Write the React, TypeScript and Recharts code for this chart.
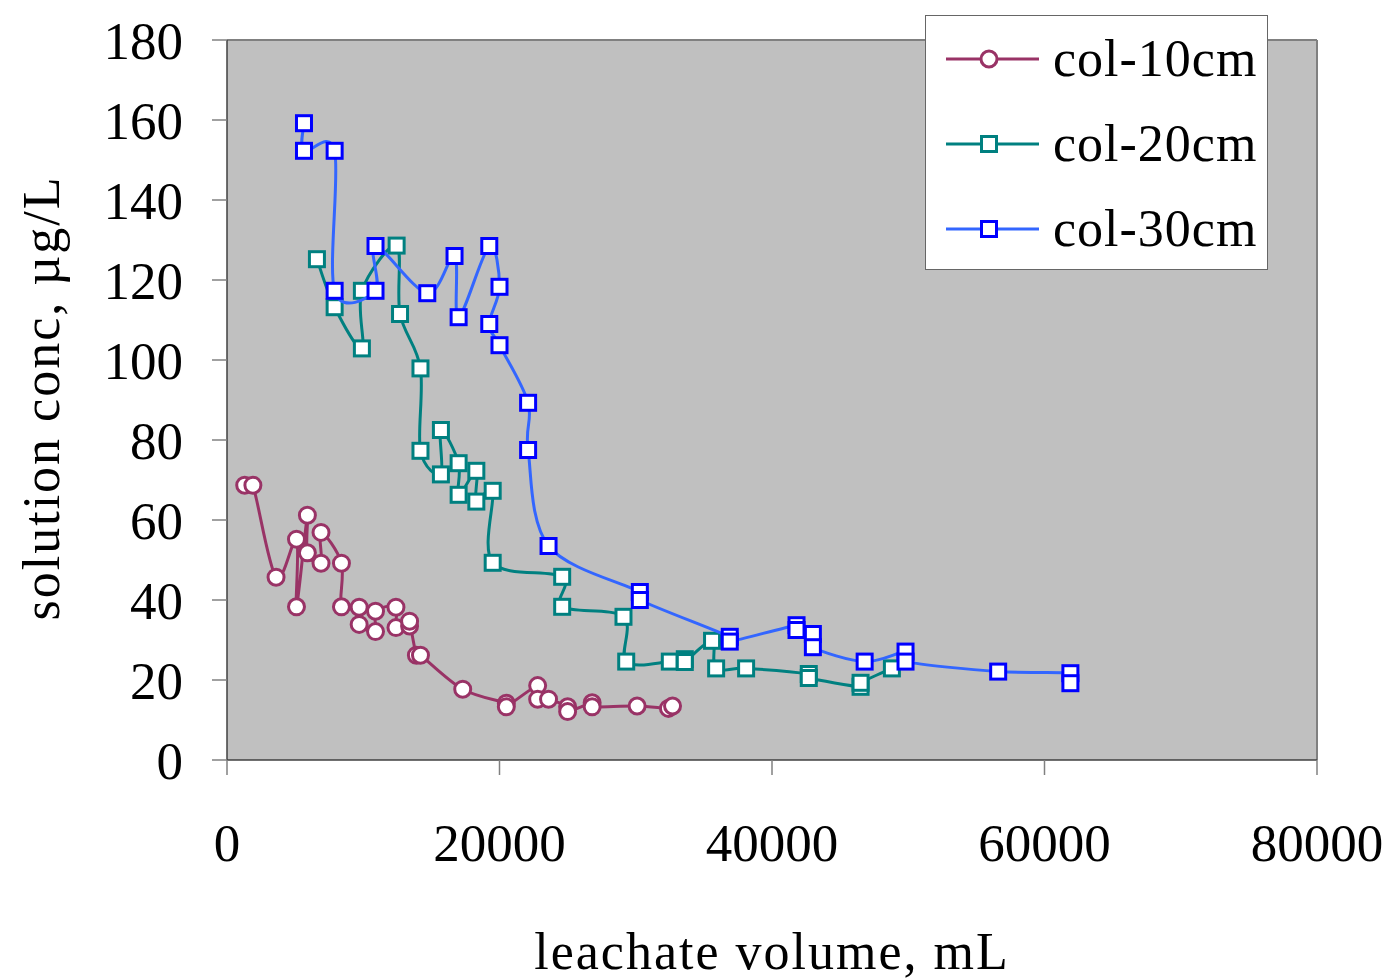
import { CartesianGrid, Legend, ReferenceLine, Scatter, ScatterChart, XAxis, YAxis } from "recharts";

// leachate volume (mL) / solution conc (µg/L)
const col10X = [1300, 1900, 3600, 5100, 5100, 5900, 5900, 6900, 6900, 8400, 8400, 9700, 9700, 10900, 10900, 12400, 12400, 13400, 13400, 13900, 14200, 17300, 20500, 20500, 22800, 22800, 23600, 25000, 25000, 26800, 26800, 30100, 32400, 32700];
const col10Y = [68.7, 68.7, 45.7, 55.2, 38.3, 61.2, 51.8, 49.2, 56.9, 49.2, 38.3, 38.2, 33.9, 32.1, 37.2, 38.2, 33.1, 33.5, 34.7, 26.2, 26.2, 17.7, 14.2, 13.3, 18.6, 15.2, 15.2, 13.3, 12.1, 14.3, 13.3, 13.5, 12.9, 13.5];

const col20X = [6600, 7900, 9900, 9900, 12450, 12700, 14200, 14200, 15700, 15700, 17000, 17000, 18300, 18300, 19500, 19500, 24600, 24600, 29100, 29300, 32500, 33600, 33600, 35600, 35900, 38100, 42700, 42700, 46500, 46500, 48800];
const col20Y = [125.2, 113.2, 102.9, 117.3, 128.6, 111.5, 97.9, 77.3, 71.4, 82.5, 74.2, 66.3, 72.3, 64.6, 67.3, 49.3, 45.8, 38.3, 35.8, 24.6, 24.6, 25.2, 24.5, 29.8, 22.9, 22.9, 21.5, 20.5, 18.3, 19.3, 22.9];

const col30X = [5650, 5650, 7900, 7900, 10900, 10900, 14700, 16700, 17000, 19250, 20000, 19250, 20000, 22100, 22100, 23600, 30300, 30300, 36900, 36900, 41800, 41800, 43000, 43000, 46800, 49800, 49800, 56600, 61900, 61900];
const col30Y = [159.2, 152.3, 152.3, 117.3, 117.3, 128.5, 116.7, 126.0, 110.7, 128.5, 118.3, 109.0, 103.7, 89.3, 77.5, 53.5, 42.0, 40.0, 30.8, 29.6, 33.7, 32.5, 31.5, 28.2, 24.6, 27.1, 24.6, 22.1, 21.7, 19.2];

const xTicks = [0, 20000, 40000, 60000, 80000];
const yTicks = [0, 20, 40, 60, 80, 100, 120, 140, 160, 180];

const zip = (xs: number[], ys: number[]) => xs.map((x, i) => ({ x, y: ys[i] }));

const FONT = "'Liberation Serif', 'Times New Roman', serif";

// excel-like smoothed line (catmull-rom through the points, in data order)
const smoothCurve = (context: any) => {
  let pts: number[][] = [];
  return {
    areaStart() {},
    areaEnd() {},
    lineStart() {
      pts = [];
    },
    point(x: number, y: number) {
      pts.push([+x, +y]);
    },
    lineEnd() {
      if (!pts.length) return;
      context.moveTo(pts[0][0], pts[0][1]);
      for (let i = 0; i < pts.length - 1; i++) {
        const p0 = pts[i - 1] || pts[i];
        const p1 = pts[i];
        const p2 = pts[i + 1];
        const p3 = pts[i + 2] || p2;
        context.bezierCurveTo(
          p1[0] + (p2[0] - p0[0]) / 6,
          p1[1] + (p2[1] - p0[1]) / 6,
          p2[0] - (p3[0] - p1[0]) / 6,
          p2[1] - (p3[1] - p1[1]) / 6,
          p2[0],
          p2[1]
        );
      }
    },
  };
};

const SERIES = [
  { name: "col-10cm", data: zip(col10X, col10Y), line: "#993366", mark: "#993366", shape: "circle" },
  { name: "col-20cm", data: zip(col20X, col20Y), line: "#008080", mark: "#008080", shape: "square" },
  { name: "col-30cm", data: zip(col30X, col30Y), line: "#3366FF", mark: "#0000FF", shape: "square" },
];

const Marker = ({ cx, cy, color, shape }: { cx: number; cy: number; color: string; shape: string }) =>
  shape === "circle" ? (
    <circle cx={cx} cy={cy} r={8} fill="#fff" stroke={color} strokeWidth={3} />
  ) : (
    <rect x={cx - 7.5} y={cy - 7.5} width={15} height={15} fill="#fff" stroke={color} strokeWidth={3} />
  );

function LegendBox() {
  return (
    <div
      style={{
        width: 343,
        height: 255,
        boxSizing: "border-box",
        background: "#fff",
        border: "1px solid #666",
        fontFamily: FONT,
        fontSize: 52,
        letterSpacing: 1,
        color: "#000",
      }}
    >
      {SERIES.map((s) => (
        <div key={s.name} style={{ height: 85, display: "flex", alignItems: "center" }}>
          <svg width={127} height={30} style={{ flexShrink: 0 }}>
            <line x1={20} x2={113} y1={15} y2={15} stroke={s.line} strokeWidth={3} />
            <Marker cx={63} cy={15} color={s.mark} shape={s.shape} />
          </svg>
          <span style={{ lineHeight: 1 }}>{s.name}</span>
        </div>
      ))}
    </div>
  );
}

export default function App() {
  const tickStyle = { fontSize: 53, fill: "#000", fontFamily: FONT };
  return (
    <div style={{ position: "relative", width: 1380, height: 971 }}>
      <ScatterChart width={1380} height={960} margin={{ top: 32, right: 71, bottom: 0, left: 0 }}>
        <CartesianGrid fill="#C0C0C0" horizontal={false} vertical={false} />
        <XAxis
          type="number"
          dataKey="x"
          domain={[0, 80000]}
          ticks={xTicks}
          height={208}
          tick={tickStyle}
          tickSize={15}
          tickMargin={48}
          axisLine={{ stroke: "#404040", strokeWidth: 1.5 }}
          tickLine={{ stroke: "#808080", strokeWidth: 1.5 }}
          interval={0}
        />
        <YAxis
          type="number"
          dataKey="y"
          domain={[0, 180]}
          ticks={yTicks}
          width={219}
          tick={tickStyle}
          tickSize={15}
          tickMargin={29}
          axisLine={{ stroke: "#404040", strokeWidth: 1.5 }}
          tickLine={{ stroke: "#808080", strokeWidth: 1.5 }}
          interval={0}
        />
        <ReferenceLine y={180} stroke="#808080" strokeWidth={2} />
        <ReferenceLine x={80000} stroke="#808080" strokeWidth={2} />
        {SERIES.map((s) => (
          <Scatter
            key={s.name}
            name={s.name}
            data={s.data}
            isAnimationActive={false}
            line={{ stroke: s.line, strokeWidth: 3 }}
            lineJointType={smoothCurve as any}
            shape={(p: any) => <Marker cx={p.cx} cy={p.cy} color={s.mark} shape={s.shape} />}
          />
        ))}
        <Legend
          layout="horizontal"
          verticalAlign="middle"
          align="center"
          content={() => <LegendBox />}
          wrapperStyle={{ top: 7, left: 917, width: 343, height: 255 }}
        />
      </ScatterChart>
      <div
        style={{
          position: "absolute",
          left: 34,
          top: 390,
          transform: "translate(-50%, -50%) rotate(-90deg)",
          whiteSpace: "nowrap",
          fontFamily: FONT,
          fontSize: 52,
          letterSpacing: 2,
          lineHeight: 1,
        }}
      >
        solution conc, µg/L
      </div>
      <div
        style={{
          position: "absolute",
          left: 764,
          top: 944,
          transform: "translate(-50%, -50%)",
          whiteSpace: "nowrap",
          fontFamily: FONT,
          fontSize: 52,
          letterSpacing: 2,
          lineHeight: 1,
        }}
      >
        leachate volume, mL
      </div>
    </div>
  );
}
